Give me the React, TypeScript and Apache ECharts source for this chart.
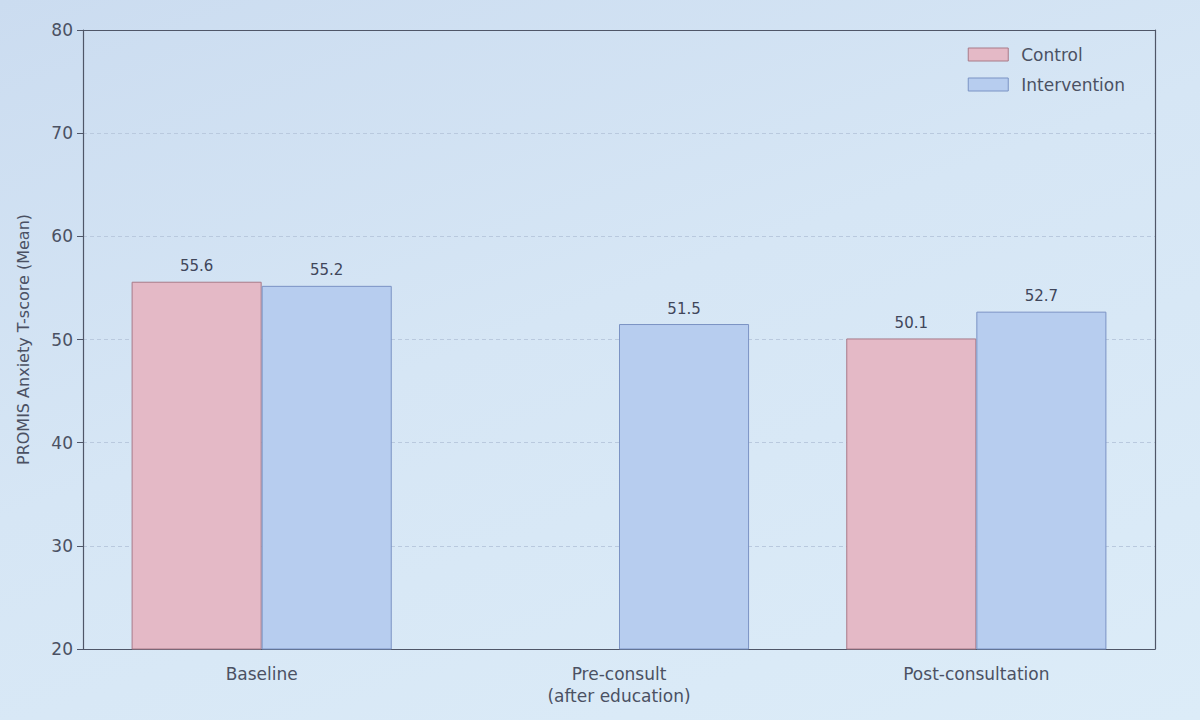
import { useEffect, useRef } from 'react';
import * as echarts from 'echarts';

// ---------------------------------------------------------------------------
// Data
// ---------------------------------------------------------------------------

const categories = ['Baseline', 'Pre-consult\n(after education)', 'Post-consultation'];
const controlValues: (number | null)[] = [55.6, null, 50.1];
const interventionValues: (number | null)[] = [55.2, 51.5, 52.7];
const seriesNames = ['Control', 'Intervention'];

const FONT = '"DejaVu Sans", sans-serif';
const TEXT = '#4b5163';
const AXIS = '#4f5668';

function buildOption(): echarts.EChartsOption {
  const barLabel = {
    show: true,
    position: 'top' as const,
    distance: 8,
    fontFamily: FONT,
    fontSize: 15,
    color: '#40465a',
    formatter: (p: any) => (p.value == null ? '' : Number(p.value).toFixed(1)),
  };

  // plain frame lines for the top and right edges (matplotlib spines)
  const frameAxis = {
    axisLine: { show: true, onZero: false, lineStyle: { color: AXIS, width: 1.2 } },
    axisTick: { show: false },
    axisLabel: { show: false },
    splitLine: { show: false },
  };

  return {
    animation: false,
    textStyle: { fontFamily: FONT },
    grid: { left: 83, right: 45, top: 30, bottom: 71 },
    legend: {
      orient: 'vertical',
      right: 70,
      top: 41,
      icon: 'rect',
      itemWidth: 40,
      itemHeight: 13,
      itemGap: 13,
      itemStyle: { borderWidth: 1 },
      textStyle: { fontFamily: FONT, fontSize: 17, color: TEXT, padding: [0, 0, 0, 8] },
      data: seriesNames,
    },
    xAxis: [
      {
        type: 'category',
        data: categories,
        axisLine: { lineStyle: { color: AXIS, width: 1.2 } },
        axisTick: { alignWithLabel: true, length: 6, lineStyle: { color: AXIS } },
        axisLabel: {
          fontFamily: FONT,
          fontSize: 17,
          color: TEXT,
          margin: 14,
          lineHeight: 22,
        },
      },
      { type: 'category', data: categories, position: 'top', ...frameAxis },
    ],
    yAxis: [
      {
        type: 'value',
        min: 20,
        max: 80,
        interval: 10,
        name: 'PROMIS Anxiety T-score (Mean)',
        nameLocation: 'middle',
        nameGap: 52,
        nameTextStyle: { fontFamily: FONT, fontSize: 16, color: TEXT },
        axisLine: { show: true, lineStyle: { color: AXIS, width: 1.2 } },
        axisTick: { show: true, length: 6, lineStyle: { color: AXIS } },
        axisLabel: { fontFamily: FONT, fontSize: 17, color: TEXT, margin: 10 },
        splitLine: {
          show: true,
          lineStyle: { color: '#b9c9de', type: [4, 3], width: 1 },
        },
      },
      { type: 'value', min: 20, max: 80, interval: 10, position: 'right', ...frameAxis },
    ],
    series: [
      {
        name: seriesNames[0],
        type: 'bar',
        data: controlValues,
        barWidth: '36.4%',
        barGap: '0%',
        itemStyle: { color: '#e4b9c6', borderColor: '#a87a88', borderWidth: 1 },
        label: barLabel,
      },
      {
        name: seriesNames[1],
        type: 'bar',
        data: interventionValues,
        barWidth: '36.4%',
        barGap: '0%',
        itemStyle: { color: '#b7cdef', borderColor: '#7b93c4', borderWidth: 1 },
        label: barLabel,
      },
    ],
  };
}

export default function App() {
  const containerRef = useRef<HTMLDivElement | null>(null);

  useEffect(() => {
    document.body.style.margin = '0';
    if (!containerRef.current) return;
    const chart = echarts.init(containerRef.current, undefined, { renderer: 'svg' });
    chart.setOption(buildOption());
    return () => chart.dispose();
  }, []);

  return (
    <div
      style={{
        width: 1200,
        height: 720,
        background: 'linear-gradient(160deg, #cbdcf0 0%, #d6e6f5 45%, #dcecf8 100%)',
      }}
    >
      <div ref={containerRef} style={{ width: 1200, height: 720 }} />
    </div>
  );
}
